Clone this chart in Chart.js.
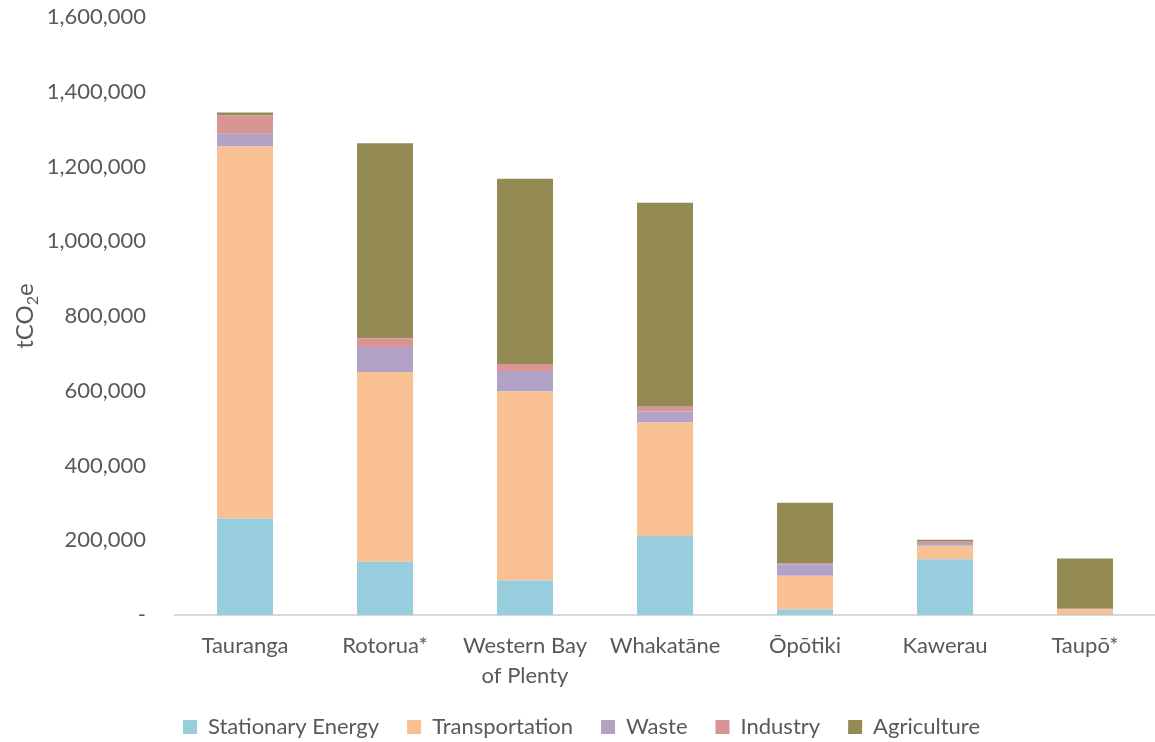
<!DOCTYPE html>
<html>
<head>
<meta charset="utf-8">
<script src="https://cdn.jsdelivr.net/npm/chart.js@4"></script>
<style>
  html, body { margin: 0; padding: 0; background: #fff; }
  #wrap { width: 1155px; height: 742px; position: relative; }
</style>
</head>
<body>
<div id="wrap"><canvas id="emissions"></canvas></div>
<script>
// districts on the x axis
const categories = ['Tauranga', 'Rotorua*', ['Western Bay', 'of Plenty'], 'Whakatāne', 'Ōpōtiki', 'Kawerau', 'Taupō*'];

// tCO2e per sector
const stationaryEnergy = [258600, 142700, 92600, 211500, 15000, 148900, 1500];
const transportation   = [995200, 507900, 505300, 303400, 90200, 36600, 13000];
const waste            = [34000, 67000, 55000, 30000, 30300, 7200, 1500];
const industry         = [50000, 23000, 19000, 12500, 3700, 3600, 500];
const agriculture      = [7300, 522000, 496000, 546000, 161500, 5300, 135000];

const yTicks = [0, 200000, 400000, 600000, 800000, 1000000, 1200000, 1400000, 1600000];

const FONT = 'Lato, "Open Sans", sans-serif';
const TEXT = '#595959';

// y axis title with a real subscript 2
const yTitle = {
    id: 'yTitle',
    afterDraw(chart) {
        const ctx = chart.ctx;
        const area = chart.chartArea;
        const cy = (area.top + area.bottom) / 2;
        ctx.save();
        ctx.translate(33, cy);
        ctx.rotate(-Math.PI / 2);
        ctx.fillStyle = TEXT;
        ctx.textBaseline = 'alphabetic';
        const big = '24px ' + FONT;
        const small = '16px ' + FONT;
        ctx.font = big;
        const w1 = ctx.measureText('tCO').width;
        const w3 = ctx.measureText('e').width;
        ctx.font = small;
        const w2 = ctx.measureText('2').width;
        let x = -(w1 + w2 + w3) / 2;
        ctx.font = big;
        ctx.fillText('tCO', x, 0);
        x += w1;
        ctx.font = small;
        ctx.fillText('2', x, 5);
        x += w2;
        ctx.font = big;
        ctx.fillText('e', x, 0);
        ctx.restore();
    }
};

const ctx = document.getElementById('emissions').getContext('2d');
new Chart(ctx, {
    type: 'bar',
    data: {
        labels: categories,
        datasets: [
            { label: 'Stationary Energy', data: stationaryEnergy, backgroundColor: '#97CDDD' },
            { label: 'Transportation', data: transportation, backgroundColor: '#F9C193' },
            { label: 'Waste', data: waste, backgroundColor: '#B2A2C7' },
            { label: 'Industry', data: industry, backgroundColor: '#D99594' },
            { label: 'Agriculture', data: agriculture, backgroundColor: '#948A54' }
        ]
    },
    options: {
        responsive: true,
        maintainAspectRatio: false,
        animation: false,
        layout: { padding: { top: 0, right: -8, bottom: -6, left: 0 } },
        datasets: {
            bar: { barPercentage: 0.4, categoryPercentage: 1, borderWidth: 0 }
        },
        plugins: {
            legend: {
                position: 'bottom',
                labels: {
                    font: { family: FONT, size: 22 },
                    color: TEXT,
                    boxWidth: 14,
                    boxHeight: 14,
                    padding: 28
                }
            },
            tooltip: { enabled: true }
        },
        scales: {
            x: {
                stacked: true,
                grid: { display: false },
                border: { display: true, color: '#D9D9D9', width: 2 },
                ticks: {
                    color: TEXT,
                    font: { family: FONT, size: 22, lineHeight: 1.35 },
                    padding: 8,
                    maxRotation: 0,
                    autoSkip: false
                },
                afterFit(scale) { scale.height = 73; }
            },
            y: {
                stacked: true,
                min: 0,
                max: 1600000,
                grid: { display: false, tickLength: 25 },
                border: { display: false },
                afterBuildTicks(scale) {
                    scale.ticks = yTicks.map(v => ({ value: v }));
                },
                ticks: {
                    color: TEXT,
                    font: { family: FONT, size: 22 },
                    padding: 4,
                    callback: v => v === 0 ? '-' : v.toLocaleString('en-US')
                },
                afterFit(scale) { scale.width = 175; }
            }
        }
    },
    plugins: [yTitle]
});
</script>
</body>
</html>
